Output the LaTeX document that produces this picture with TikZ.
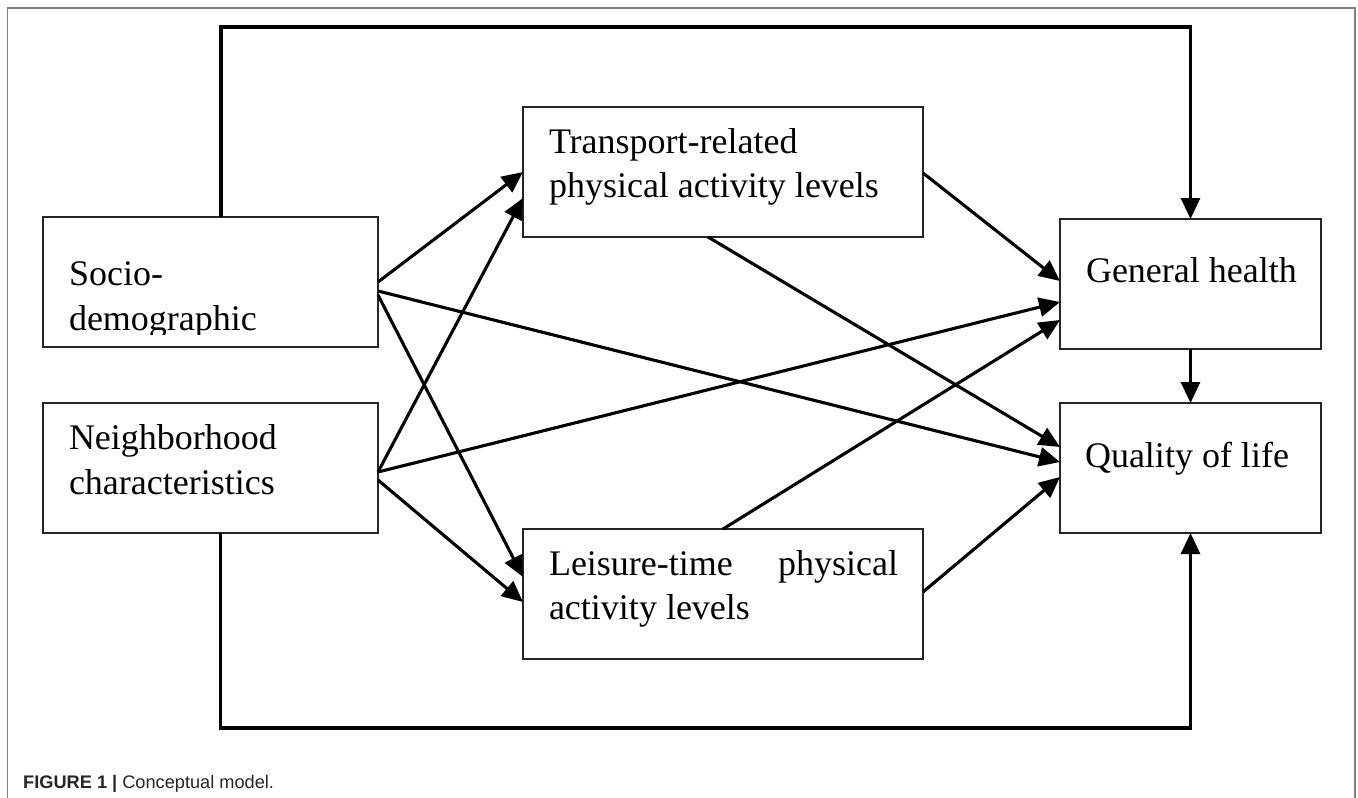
\documentclass[tikz,border=0pt]{standalone}
\usepackage{fontspec}
\setmainfont{Liberation Serif}
\newfontfamily\capfont{Liberation Sans}
\usetikzlibrary{arrows.meta,calc}
\begin{document}
\begin{tikzpicture}[x=1pt,y=-1pt,
  box/.style={draw=black!85,line width=1.6pt,anchor=north west,inner sep=0pt,outer sep=0pt,minimum height=130pt},
  lbl/.style={anchor=base west,inner sep=0pt,outer sep=0pt,font=\fontsize{36}{44}\selectfont,align=left},
  conn/.style={line width=3.1pt,-{Triangle[length=21pt,width=19pt]}},
  outerframe/.style={draw=black!50,line width=1.6pt}]
\useasboundingbox (0,0) rectangle (1358,798);
\fill[white] (0,0) rectangle (1358,798);
\draw[outerframe] (7.5,798) -- (7.5,8) -- (1355,8) -- (1355,798);

\node[box,minimum width=335pt] (socio) at (43,217) {};
\node[box,minimum width=335pt] (neigh) at (43,403) {};
\node[box,minimum width=400pt] (trans) at (523,107) {};
\node[box,minimum width=400pt] (leis) at (523,529) {};
\node[box,minimum width=261pt] (gh) at (1060,219) {};
\node[box,minimum width=261pt] (qol) at (1060,403) {};

\begin{scope}
\clip (socio.north west) rectangle (378,334);
\node[lbl] (sociot) at (69,330) {Socio-\\[1pt]demographic};
\end{scope}
\node[lbl] (neight) at (69,494) {Neighborhood\\[1pt]characteristics};
\node[lbl] (transt) at (549,197) {Transport-related\\physical activity levels};
\node[lbl,text width=349pt,align=justify] (leist) at (549,575) {Leisure-time physical activity levels};
\node[lbl] (ght) at (1086,282) {General health};
\node[lbl] (qolt) at (1085,467) {Quality of life};

\coordinate (topbend) at (1190.5,27);
\coordinate (botbend) at (1190.5,728);
\draw[conn] ([xshift=10.5pt]socio.north) |- (topbend) -- (gh.north);
\draw[conn] ([xshift=10pt]neigh.south) |- (botbend) -- (qol.south);
\draw[conn] (gh.south) -- (qol.north);
\draw[conn] (socio.east) -- (trans.west);
\draw[conn] ([yshift=-4pt]neigh.east) -- ([yshift=-26pt]trans.west);
\draw[conn] ([yshift=-13pt]socio.east) -- ([yshift=17pt]leis.west);
\draw[conn] ([yshift=-12pt]neigh.east) -- ([yshift=-8pt]leis.west);
\draw[conn] ([yshift=-9pt]socio.east) -- ([yshift=6pt]qol.west);
\draw[conn] ([yshift=-4pt]neigh.east) -- ([yshift=-18pt]gh.west);
\draw[conn] ([yshift=-1pt]trans.east) -- ([yshift=3pt]gh.west);
\draw[conn] (leis.north) -- ([yshift=-36pt]gh.west);
\draw[conn] ([xshift=-15pt]trans.south) -- ([yshift=21pt]qol.west);
\draw[conn] ([yshift=2pt]leis.east) -- ([yshift=-9pt]qol.west);

\node[anchor=base west,inner sep=0pt,font=\capfont\fontsize{18.2}{20}\selectfont,text=black!85] (cap) at (23,788) {\textbf{FIGURE 1 |} Conceptual model.};
\end{tikzpicture}
\end{document}
